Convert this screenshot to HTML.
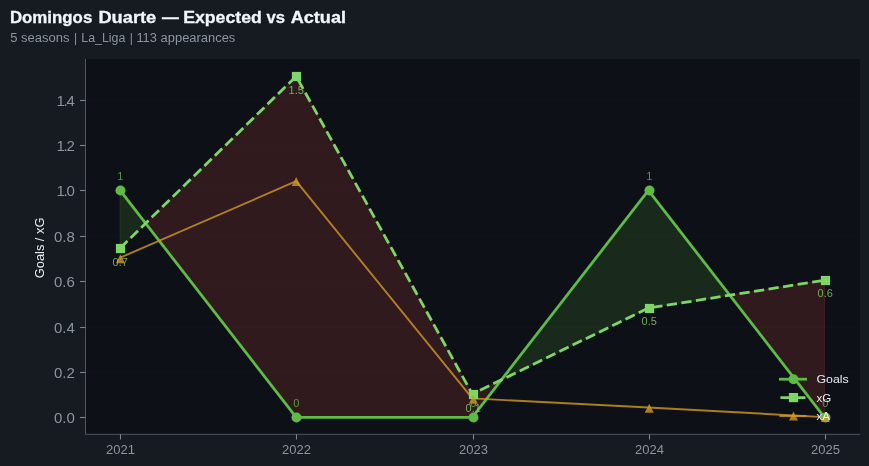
<!DOCTYPE html>
<html lang="en"><head><meta charset="utf-8"><title>Domingos Duarte — Expected vs Actual</title>
<style>
html,body{margin:0;padding:0;background:#161b22;}
body{width:869px;height:466px;overflow:hidden;position:relative;font-family:"Liberation Sans",sans-serif;}
svg{position:absolute;left:0;top:0;display:block}
text{font-family:"Liberation Sans",sans-serif;}
.title{font-weight:bold;font-size:16.2px;fill:#f0f6fc;stroke:#f0f6fc;stroke-width:0.3px;}
.sub{font-size:12px;fill:#8b949e;}
.tick{font-size:13px;fill:#8b949e;}
.ytick{font-size:15px;fill:#8b949e;}
.leg{font-size:11.5px;fill:#e6edf3;}
.ylab{font-size:13px;fill:#e6edf3;}
.lab{font-size:11px;}
</style></head><body>
<svg width="869" height="466" viewBox="0 0 869 466">
<rect x="0" y="0" width="869" height="466" fill="#161b22"/>

<text class="title" y="23.2"><tspan x="9.9" textLength="82.4" lengthAdjust="spacingAndGlyphs">Domingos</tspan> <tspan x="98.4" textLength="57.9" lengthAdjust="spacingAndGlyphs">Duarte</tspan> <tspan x="161.9" textLength="16.8" lengthAdjust="spacingAndGlyphs">—</tspan> <tspan x="183.2" textLength="78.6" lengthAdjust="spacingAndGlyphs">Expected</tspan> <tspan x="266.5" textLength="18.5" lengthAdjust="spacingAndGlyphs">vs</tspan> <tspan x="290.7" textLength="55.3" lengthAdjust="spacingAndGlyphs">Actual</tspan></text>
<text class="sub" y="41.8"><tspan x="10.2" textLength="59.4" lengthAdjust="spacingAndGlyphs">5 seasons</tspan> <tspan x="74.1">|</tspan> <tspan x="81.3" textLength="44.0" lengthAdjust="spacingAndGlyphs">La_Liga</tspan> <tspan x="129.7">|</tspan> <tspan x="136.4" textLength="98.9" lengthAdjust="spacingAndGlyphs">113 appearances</tspan></text>
<rect x="85.5" y="59.0" width="774.5" height="375.3" fill="#0d1117"/>
<line x1="85.5" x2="860.0" y1="417.50" y2="417.50" stroke="#21262d" stroke-opacity="0.12" stroke-width="1"/>
<line x1="85.5" x2="860.0" y1="372.50" y2="372.50" stroke="#21262d" stroke-opacity="0.12" stroke-width="1"/>
<line x1="85.5" x2="860.0" y1="327.50" y2="327.50" stroke="#21262d" stroke-opacity="0.12" stroke-width="1"/>
<line x1="85.5" x2="860.0" y1="281.50" y2="281.50" stroke="#21262d" stroke-opacity="0.12" stroke-width="1"/>
<line x1="85.5" x2="860.0" y1="236.50" y2="236.50" stroke="#21262d" stroke-opacity="0.12" stroke-width="1"/>
<line x1="85.5" x2="860.0" y1="190.50" y2="190.50" stroke="#21262d" stroke-opacity="0.12" stroke-width="1"/>
<line x1="85.5" x2="860.0" y1="145.50" y2="145.50" stroke="#21262d" stroke-opacity="0.12" stroke-width="1"/>
<line x1="85.5" x2="860.0" y1="100.50" y2="100.50" stroke="#21262d" stroke-opacity="0.12" stroke-width="1"/>
<g transform="translate(-0.7,-0.5)">
<polygon points="120.80,190.90 146.32,223.79 146.32,223.79 120.80,248.70" fill="#5dbb46" fill-opacity="0.15" stroke="#5dbb46" stroke-opacity="0.15" stroke-width="1"/>
<polygon points="502.00,380.44 649.10,190.90 730.45,295.71 730.45,295.71 649.10,308.60 502.00,380.44" fill="#5dbb46" fill-opacity="0.15" stroke="#5dbb46" stroke-opacity="0.15" stroke-width="1"/>
<polygon points="146.32,223.79 296.90,417.80 473.00,417.80 502.00,380.44 502.00,380.44 473.00,394.60 296.90,76.80 146.32,223.79" fill="#f85149" fill-opacity="0.15" stroke="#f85149" stroke-opacity="0.15" stroke-width="1"/>
<polygon points="730.45,295.71 825.20,417.80 825.20,280.70 730.45,295.71" fill="#f85149" fill-opacity="0.15" stroke="#f85149" stroke-opacity="0.15" stroke-width="1"/>
</g>
<line x1="85.5" x2="85.5" y1="59.0" y2="434.3" stroke="#4f5660" stroke-width="1"/>
<line x1="85.5" x2="860.0" y1="434.3" y2="434.3" stroke="#4f5660" stroke-width="1"/>
<line x1="120.50" x2="120.50" y1="434.3" y2="439.5" stroke="#7d8590" stroke-width="1.1"/>
<text class="tick" x="120.50" y="454.3" text-anchor="middle">2021</text>
<line x1="296.50" x2="296.50" y1="434.3" y2="439.5" stroke="#7d8590" stroke-width="1.1"/>
<text class="tick" x="296.50" y="454.3" text-anchor="middle">2022</text>
<line x1="473.50" x2="473.50" y1="434.3" y2="439.5" stroke="#7d8590" stroke-width="1.1"/>
<text class="tick" x="473.50" y="454.3" text-anchor="middle">2023</text>
<line x1="649.50" x2="649.50" y1="434.3" y2="439.5" stroke="#7d8590" stroke-width="1.1"/>
<text class="tick" x="649.50" y="454.3" text-anchor="middle">2024</text>
<line x1="825.50" x2="825.50" y1="434.3" y2="439.5" stroke="#7d8590" stroke-width="1.1"/>
<text class="tick" x="825.50" y="454.3" text-anchor="middle">2025</text>
<line x1="80.1" x2="85.5" y1="417.50" y2="417.50" stroke="#7d8590" stroke-width="1.1"/>
<text class="ytick" x="74.9" y="422.90" text-anchor="end">0.0</text>
<line x1="80.1" x2="85.5" y1="372.50" y2="372.50" stroke="#7d8590" stroke-width="1.1"/>
<text class="ytick" x="74.9" y="377.90" text-anchor="end">0.2</text>
<line x1="80.1" x2="85.5" y1="327.50" y2="327.50" stroke="#7d8590" stroke-width="1.1"/>
<text class="ytick" x="74.9" y="332.90" text-anchor="end">0.4</text>
<line x1="80.1" x2="85.5" y1="281.50" y2="281.50" stroke="#7d8590" stroke-width="1.1"/>
<text class="ytick" x="74.9" y="286.90" text-anchor="end">0.6</text>
<line x1="80.1" x2="85.5" y1="236.50" y2="236.50" stroke="#7d8590" stroke-width="1.1"/>
<text class="ytick" x="74.9" y="241.90" text-anchor="end">0.8</text>
<line x1="80.1" x2="85.5" y1="190.50" y2="190.50" stroke="#7d8590" stroke-width="1.1"/>
<text class="ytick" x="74.9" y="195.90" text-anchor="end" textLength="18.4" lengthAdjust="spacing">1.0</text>
<line x1="80.1" x2="85.5" y1="145.50" y2="145.50" stroke="#7d8590" stroke-width="1.1"/>
<text class="ytick" x="74.9" y="150.90" text-anchor="end" textLength="18.4" lengthAdjust="spacing">1.2</text>
<line x1="80.1" x2="85.5" y1="100.50" y2="100.50" stroke="#7d8590" stroke-width="1.1"/>
<text class="ytick" x="74.9" y="105.90" text-anchor="end" textLength="18.4" lengthAdjust="spacing">1.4</text>
<text class="ylab" transform="translate(44.2,247.9) rotate(-90)" text-anchor="middle" textLength="60.5" lengthAdjust="spacingAndGlyphs">Goals / xG</text>
<g transform="translate(-0.7,-0.5)">
<polyline points="120.80,190.90 296.90,417.80 473.00,417.80 649.10,190.90 825.20,417.80" fill="none" stroke="#5dbb46" stroke-width="2.78" stroke-linejoin="round"/>
<polyline points="120.80,248.70 296.90,76.80 473.00,394.60 649.10,308.60 825.20,280.70" fill="none" stroke="#7ed667" stroke-width="2.78" stroke-dasharray="10.28 4.435" stroke-linejoin="round"/>
<polyline points="120.80,258.20 296.90,181.70 473.00,398.90 649.10,408.00 825.20,417.60" fill="none" stroke="#d29922" stroke-opacity="0.8" stroke-width="1.9" stroke-linejoin="round"/>
</g>
<circle cx="120.50" cy="190.50" r="5.0" fill="#5dbb46"/>
<circle cx="296.50" cy="417.50" r="5.0" fill="#5dbb46"/>
<circle cx="473.50" cy="417.50" r="5.0" fill="#5dbb46"/>
<circle cx="649.50" cy="190.50" r="5.0" fill="#5dbb46"/>
<circle cx="825.50" cy="417.50" r="5.0" fill="#5dbb46"/>
<rect x="115.90" y="243.90" width="9.2" height="9.2" fill="#7ed667"/>
<rect x="291.90" y="71.90" width="9.2" height="9.2" fill="#7ed667"/>
<rect x="468.90" y="389.90" width="9.2" height="9.2" fill="#7ed667"/>
<rect x="644.90" y="303.90" width="9.2" height="9.2" fill="#7ed667"/>
<rect x="820.90" y="275.90" width="9.2" height="9.2" fill="#7ed667"/>
<polygon points="120.40,254.20 124.90,263.20 115.90,263.20" fill="#d29922" fill-opacity="0.8" />
<polygon points="296.20,177.10 300.70,186.10 291.70,186.10" fill="#d29922" fill-opacity="0.8" />
<polygon points="473.40,394.85 477.90,403.85 468.90,403.85" fill="#d29922" fill-opacity="0.8" />
<polygon points="649.20,403.70 653.70,412.70 644.70,412.70" fill="#d29922" fill-opacity="0.8" />
<polygon points="825.30,413.00 829.80,422.00 820.80,422.00" fill="#d29922" fill-opacity="0.8" />
<text class="lab" x="120.20" y="180.00" text-anchor="middle" fill="#5dbb46" fill-opacity="0.82">1</text>
<text class="lab" x="296.20" y="407.00" text-anchor="middle" fill="#5dbb46" fill-opacity="0.82">0</text>
<text class="lab" x="473.20" y="407.00" text-anchor="middle" fill="#5dbb46" fill-opacity="0.82">0</text>
<text class="lab" x="649.20" y="180.00" text-anchor="middle" fill="#5dbb46" fill-opacity="0.82">1</text>
<text class="lab" x="825.20" y="407.00" text-anchor="middle" fill="#5dbb46" fill-opacity="0.82">0</text>
<text class="lab" x="120.20" y="265.90" text-anchor="middle" fill="#7ed667" fill-opacity="0.8">0.7</text>
<text class="lab" x="296.20" y="93.90" text-anchor="middle" fill="#7ed667" fill-opacity="0.8">1.5</text>
<text class="lab" x="473.20" y="411.80" text-anchor="middle" fill="#7ed667" fill-opacity="0.8">0.1</text>
<text class="lab" x="649.20" y="325.10" text-anchor="middle" fill="#7ed667" fill-opacity="0.8">0.5</text>
<text class="lab" x="825.20" y="297.10" text-anchor="middle" fill="#7ed667" fill-opacity="0.8">0.6</text>
<line x1="779" x2="807" y1="379.2" y2="379.2" stroke="#5dbb46" stroke-width="2.78"/><circle cx="793.5" cy="379.2" r="5.0" fill="#5dbb46"/>
<line x1="780.4" x2="806" y1="397.6" y2="397.6" stroke="#7ed667" stroke-width="2.78" stroke-dasharray="10.28 4.435"/><rect x="788.9" y="393.0" width="9.2" height="9.2" fill="#7ed667"/>
<line x1="779.4" x2="806.6" y1="416.0" y2="416.0" stroke="#d29922" stroke-opacity="0.8" stroke-width="2.08"/><polygon points="793.50,411.50 798.00,420.50 789.00,420.50" fill="#d29922" fill-opacity="0.8" />
<text class="leg" x="816.4" y="383.30" textLength="32.3" lengthAdjust="spacingAndGlyphs">Goals</text>
<text class="leg" x="816.4" y="401.70">xG</text>
<text class="leg" x="816.4" y="420.10">xA</text>
</svg></body></html>
